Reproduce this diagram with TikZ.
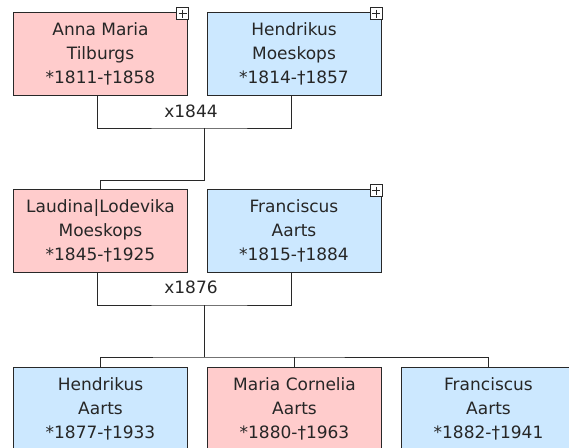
\documentclass[tikz,border=0pt]{standalone}
\usepackage{fontspec}
\setmainfont{DejaVu Sans}
\usetikzlibrary{calc}
\definecolor{pinkbox}{RGB}{255,204,204}
\definecolor{bluebox}{RGB}{204,232,255}
\definecolor{edge}{RGB}{40,40,40}
\tikzset{
  person/.style={draw=edge, line width=1pt, minimum width=174pt, minimum height=83pt,
    inner sep=0pt, align=center, text=black!85,
    font=\fontsize{17}{24}\selectfont},
  female/.style={person, fill=pinkbox},
  male/.style={person, fill=bluebox},
  conn/.style={draw=edge, line width=1pt},
  plusbox/.style={draw=edge, fill=white, line width=1pt, minimum size=12pt, inner sep=0pt},
  marr/.style={text=black!85, font=\fontsize{17}{20}\selectfont, inner sep=0pt}
}
\newcommand{\plusmark}[2]{%
  \node[plusbox] (#2) at ($(#1.north east)+(-5.5,2)$) {};
  \draw[edge, line width=1pt] ($(#2.center)+(-4,0)$) -- ($(#2.center)+(4,0)$);
  \draw[edge, line width=1pt] ($(#2.center)+(0,-4)$) -- ($(#2.center)+(0,4)$);
}
\begin{document}
\begin{tikzpicture}[x=1pt,y=-1pt]
\useasboundingbox (0,0) rectangle (569,447);
\clip (0,0) rectangle (569,447);
% row 1
\node[female] (A) at (100.5,53.5) {Anna Maria\\Tilburgs\\*1811-†1858};
\node[male] (B) at (294,53.5) {Hendrikus\\Moeskops\\*1814-†1857};
\plusmark{A}{pA}
\plusmark{B}{pB}
\coordinate (m1) at (204,128);
\coordinate (j1) at (204,180);
\draw[conn] ($(A.south)+(-3.5,0)$) |- (m1) -| ($(B.south)+(-3,0)$);
\node[marr] (l1) at (191,111) {x1844};
% row 2
\node[female] (C) at (100.5,230.5) {Laudina|Lodevika\\Moeskops\\*1845-†1925};
\node[male] (D) at (294,230.5) {Franciscus\\Aarts\\*1815-†1884};
\plusmark{D}{pD}
\draw[conn] (m1) -- (j1) -| (C.north);
\coordinate (m2) at (204,305);
\coordinate (j2) at (204,357);
\draw[conn] ($(C.south)+(-3.5,0)$) |- (m2) -| ($(D.south)+(-3,0)$);
\node[marr] (l2) at (191,287) {x1876};
% row 3
\node[male] (E) at (100.5,408.5) {Hendrikus\\Aarts\\*1877-†1933};
\node[female] (F) at (294.5,408.5) {Maria Cornelia\\Aarts\\*1880-†1963};
\node[male] (G) at (488.5,408.5) {Franciscus\\Aarts\\*1882-†1941};
\draw[conn] (m2) -- (j2);
\draw[conn] (E.north) |- (j2) -| (G.north);
\draw[conn] (F.north) -- (F.north |- j2);
\end{tikzpicture}
\end{document}
